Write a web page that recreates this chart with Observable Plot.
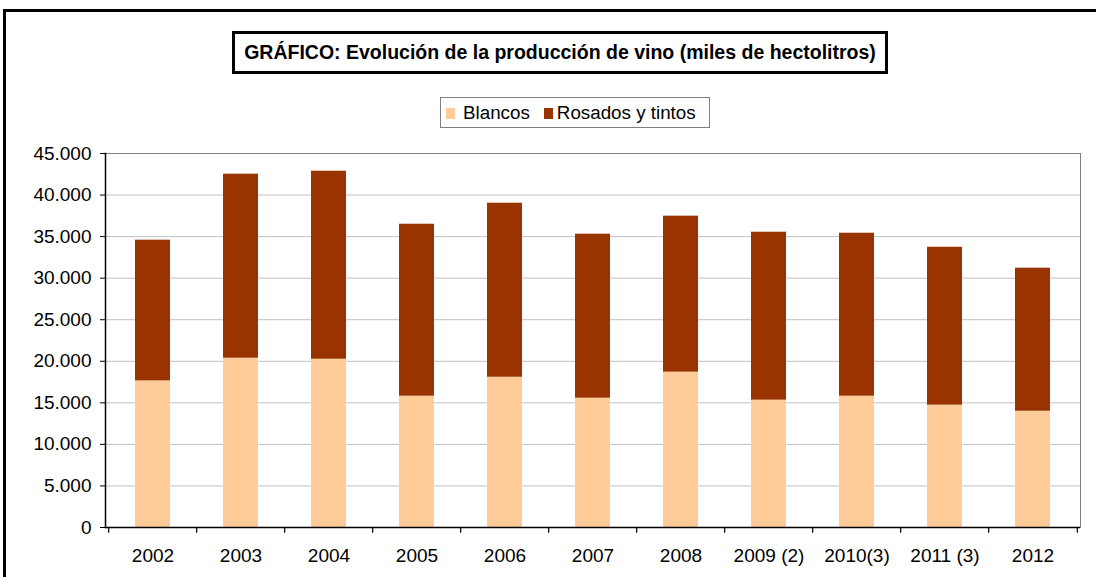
<!DOCTYPE html>
<html>
<head>
<meta charset="utf-8">
<script src="https://cdn.jsdelivr.net/npm/d3@7"></script>
<script src="https://cdn.jsdelivr.net/npm/@observablehq/plot@0.6"></script>
<style>
  html, body { margin: 0; padding: 0; background: #fff; }
  #wrap { position: relative; width: 1096px; height: 577px; overflow: hidden; font-family: "Liberation Sans", Arial, sans-serif; }
  #frame { position: absolute; left: 3px; top: 9px; width: 1300px; height: 800px; border: 3px solid #000; }
  #title { position: absolute; left: 232px; top: 31px; width: 650px; height: 37px; border: 3px solid #000; background: #fff;
           font-weight: bold; font-size: 19.5px; line-height: 37px; text-align: center; color: #000; white-space: nowrap; }
  #legend { position: absolute; left: 440px; top: 97px; width: 268px; height: 29px; border: 1px solid #808080; background: #fff;
            font-size: 18.8px; line-height: 29px; color: #000; white-space: nowrap; }
  #legend span.sw { display: inline-block; width: 9px; height: 11px; vertical-align: 0px; margin-right: 8px; }
  #legend span.item { margin-left: 5px; }
  #legend span.item + span.item { margin-left: 14px; }
  #legend span.item + span.item span.sw { margin-right: 4px; }
  #chart { position: absolute; left: 0; top: 140px; }
</style>
</head>
<body>
<div id="wrap">
  <div id="frame"></div>
  <div id="title">GRÁFICO: Evolución de la producción de vino (miles de hectolitros)</div>
  <div id="legend"></div>
  <div id="chart"></div>
</div>
<script>
const years = ["2002", "2003", "2004", "2005", "2006", "2007", "2008", "2009 (2)", "2010(3)", "2011 (3)", "2012"];
const blancos = [17640, 20370, 20250, 15800, 18080, 15560, 18690, 15320, 15800, 14720, 13990];
const rosadosTintos = [16930, 22140, 22620, 20690, 20940, 19730, 18770, 20210, 19610, 19000, 17210];
const seriesNames = ["Blancos", "Rosados y tintos"];
const seriesColors = ["#FFCC99", "#993300"];
const yTicks = [0, 5000, 10000, 15000, 20000, 25000, 30000, 35000, 40000, 45000];

const data = [];
years.forEach((y, i) => {
  data.push({year: y, series: seriesNames[0], value: blancos[i]});
  data.push({year: y, series: seriesNames[1], value: rosadosTintos[i]});
});

const fmt = d3.formatLocale({decimal: ",", thousands: ".", grouping: [3], currency: ["", ""]}).format(",d");

// legend
const leg = document.getElementById("legend");
seriesNames.forEach((s, i) => {
  const it = document.createElement("span");
  it.className = "item";
  it.innerHTML = `<span class="sw" style="background:${seriesColors[i]}"></span>${s}`;
  leg.appendChild(it);
});

const W = 1096, H = 437, mL = 105, mR = 16;
const half = (W - mL - mR) / years.length / 2;

const chart = Plot.plot({
  width: W,
  height: H,
  marginTop: 13,
  marginBottom: 50,
  marginLeft: mL,
  marginRight: mR,
  style: {fontFamily: "Liberation Sans, Arial, sans-serif", fontSize: "19px", color: "#000", background: "transparent"},
  x: {domain: years, paddingInner: 0.6, paddingOuter: 0.3, label: null},
  y: {domain: [0, 45000], label: null},
  color: {domain: seriesNames, range: seriesColors},
  marks: [
    Plot.ruleY(yTicks.filter(d => d > 0), {stroke: "#c0c0c0", strokeWidth: 1}),
    Plot.frame({stroke: "#808080"}),
    Plot.barY(data, Plot.stackY({x: "year", y: "value", fill: "series", order: seriesNames})),
    Plot.ruleY([0], {stroke: "#000", strokeWidth: 1.5}),
    Plot.frame({anchor: "left", stroke: "#000", strokeWidth: 1.5}),
    Plot.ruleX(years, {x: d => d, y1: 0, y2: -700, dx: -half, stroke: "#000", strokeWidth: 1.2}),
    Plot.ruleX([years[years.length - 1]], {x: d => d, y1: 0, y2: -700, dx: half, stroke: "#000", strokeWidth: 1.2}),
    Plot.axisX({tickSize: 0, tickPadding: 21, fontSize: 19}),
    Plot.axisY({ticks: yTicks, tickFormat: fmt, tickSize: 5, tickPadding: 9, fontSize: 19, stroke: "#000"})
  ]
});
document.getElementById("chart").appendChild(chart);
</script>
</body>
</html>
